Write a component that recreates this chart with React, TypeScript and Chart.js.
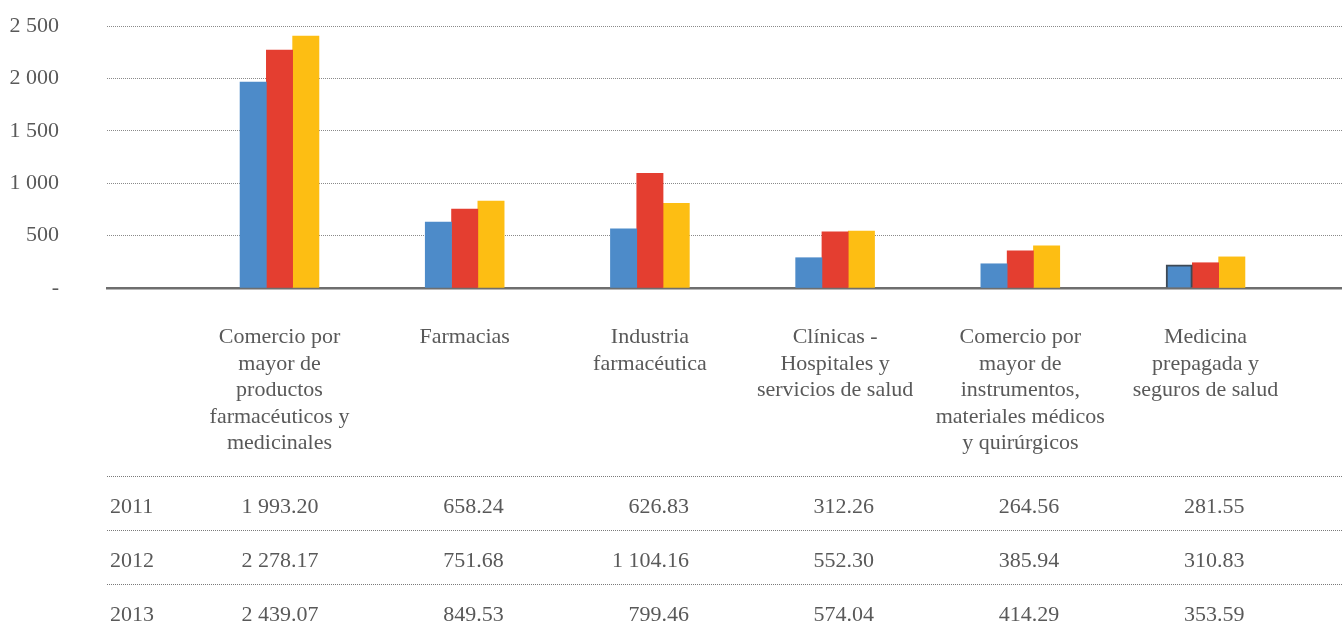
import React, { useEffect, useRef } from "react";
import { Chart, registerables } from "chart.js";

Chart.register(...registerables);

const categories: string[][] = [
  ["Comercio por", "mayor de", "productos", "farmacéuticos y", "medicinales"],
  ["Farmacias"],
  ["Industria", "farmacéutica"],
  ["Clínicas -", "Hospitales y", "servicios de salud"],
  ["Comercio por", "mayor de", "instrumentos,", "materiales médicos", "y quirúrgicos"],
  ["Medicina", "prepagada y", "seguros de salud"],
];

const years = ["2011", "2012", "2013"];

// bar heights as drawn in the picture
const bars2011 = [1965, 630, 564, 289, 231, 222];
const bars2012 = [2270, 753, 1095, 535, 354, 241];
const bars2013 = [2405, 829, 809, 544, 402, 297];

// values printed in the data table
const table2011 = [1993.2, 658.24, 626.83, 312.26, 264.56, 281.55];
const table2012 = [2278.17, 751.68, 1104.16, 552.3, 385.94, 310.83];
const table2013 = [2439.07, 849.53, 799.46, 574.04, 414.29, 353.59];

const yTicks = [0, 500, 1000, 1500, 2000, 2500];

const COLORS = ["#4d8bc9", "#e43e30", "#fdbe13"];
const TEXT = "#595959";
const FONT_FAMILY = '"Liberation Serif", "Times New Roman", serif';
const FONT_SIZE = 22;

function group(intStr: string): string {
  return intStr.replace(/\B(?=(\d{3})+(?!\d))/g, " ");
}
function fmtTick(v: number): string {
  if (v === 0) return "-";
  return group(String(v));
}
function fmtTable(v: number): string {
  const [i, d] = v.toFixed(2).split(".");
  return group(i) + "." + d;
}

const tablePlugin = {
  id: "dataTable",
  afterDraw(chart: any) {
    const ctx = chart.ctx as CanvasRenderingContext2D;
    const area = chart.chartArea;
    const xs = chart.scales.x;
    const rows = [table2011, table2012, table2013];
    const firstLine = area.bottom + 188;
    const rowH = 54;
    ctx.save();
    ctx.font = `${FONT_SIZE}px ${FONT_FAMILY}`;
    ctx.fillStyle = TEXT;
    rows.forEach((row, r) => {
      const ly = Math.round(firstLine + r * rowH) + 0.5;
      ctx.save();
      ctx.strokeStyle = "#7a7a7a";
      ctx.lineWidth = 1;
      ctx.setLineDash([1, 1]);
      ctx.beginPath();
      ctx.moveTo(area.left, ly);
      ctx.lineTo(area.right, ly);
      ctx.stroke();
      ctx.restore();
      const by = ly + 36;
      ctx.textBaseline = "alphabetic";
      ctx.textAlign = "left";
      ctx.fillText(years[r], area.left + 3, by);
      ctx.textAlign = "right";
      row.forEach((v, i) => {
        const px = xs.getPixelForValue(i + 1);
        ctx.fillText(fmtTable(v), px + 39, by);
      });
    });
    ctx.restore();
  },
};

export default function App() {
  const ref = useRef<HTMLCanvasElement | null>(null);

  useEffect(() => {
    if (!ref.current) return;
    Chart.defaults.font.family = FONT_FAMILY;
    Chart.defaults.font.size = FONT_SIZE;
    Chart.defaults.color = TEXT;

    const series = [bars2011, bars2012, bars2013];
    const chart = new Chart(ref.current, {
      type: "bar",
      data: {
        datasets: series.map((vals, s) => ({
          label: years[s],
          data: vals.map((v, i) => ({ x: i + 1, y: v })),
          backgroundColor: COLORS[s],
          borderColor: s === 0 ? "#3e4955" : COLORS[s],
          borderWidth: (c: any) => (s === 0 && c.dataIndex === 5 ? 2 : 0),
          barThickness: 26.3,
        })),
      },
      options: {
        responsive: false,
        animation: false,
        layout: { padding: { top: 26, left: 0, right: 0, bottom: 0 } },
        plugins: {
          legend: { display: false },
          tooltip: { enabled: false },
        },
        scales: {
          x: {
            type: "linear",
            min: 0.0686,
            max: 6.737,
            bounds: "data",
            offset: false,
            grid: { display: false, drawTicks: false, offset: false },
            border: { display: true, color: "#6e6e6e", width: 2.5 },
            afterBuildTicks: (scale: any) => {
              scale.ticks = categories.map((_, i) => ({ value: i + 1 }));
            },
            ticks: {
              autoSkip: false,
              maxRotation: 0,
              minRotation: 0,
              padding: 36,
              color: TEXT,
              font: { size: FONT_SIZE, lineHeight: "26.5px" },
              callback: (v: any) => {
                const idx = Math.round(Number(v)) - 1;
                return categories[idx] ?? "";
              },
            },
            afterFit: (scale: any) => {
              scale.height = 344;
              scale.paddingLeft = 0;
              scale.paddingRight = 0;
              scale.paddingTop = 0;
              scale.paddingBottom = 0;
            },
          },
          y: {
            min: 0,
            max: 2500,
            grid: { color: "#8a8a8a", lineWidth: 1, drawTicks: false },
            border: { display: false, dash: [1, 1] },
            afterBuildTicks: (scale: any) => {
              scale.ticks = yTicks.map((v) => ({ value: v }));
            },
            ticks: {
              padding: 48,
              color: TEXT,
              font: { size: FONT_SIZE },
              callback: (v: any) => fmtTick(Number(v)),
            },
            afterFit: (scale: any) => {
              scale.width = 107;
              scale.paddingTop = 0;
              scale.paddingBottom = 0;
            },
          },
        },
      },
      plugins: [tablePlugin],
    } as any);
    return () => chart.destroy();
  }, []);

  return (
    <div style={{ position: "fixed", left: 0, top: 0, width: 1342, height: 632, background: "#fff" }}>
      <canvas ref={ref} width={1342} height={632} style={{ display: "block" }} />
    </div>
  );
}
